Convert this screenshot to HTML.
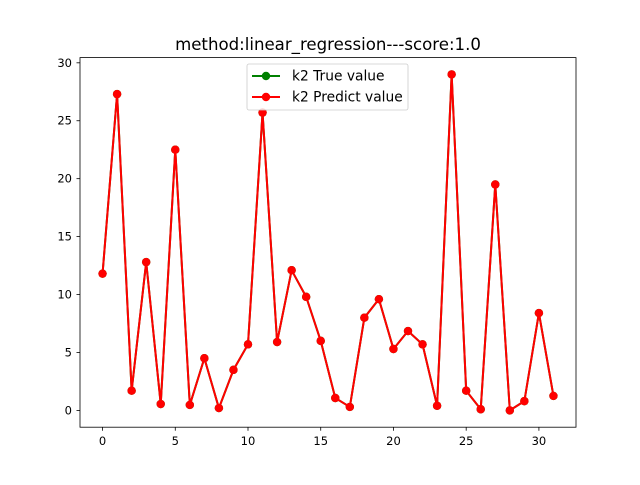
<!DOCTYPE html>
<html><head><meta charset="utf-8"><style>
body{margin:0;background:#fff}
svg text{font-family:"DejaVu Sans","Liberation Sans",sans-serif;}
</style></head><body>
<svg id="c" width="640" height="480" xmlns="http://www.w3.org/2000/svg">
<rect width="640" height="480" fill="#fff"/>
<text x="328" y="50" font-size="16.6" text-anchor="middle">method:linear_regression---score:1.0</text>
<g id="axes"></g>
<g id="series"></g>
<rect x="80" y="57.6" width="496" height="369.6" fill="none" stroke="#000" stroke-width="0.8"/>
<g>
<rect x="247" y="64" width="161" height="46" rx="2" fill="#fff" fill-opacity="0.8" stroke="#ccc" stroke-width="0.8"/>
<g>
<line x1="252" y1="76" x2="280" y2="76" stroke="green" stroke-width="2"/><circle cx="266" cy="76" r="4.2" fill="green"/>
<text x="292" y="80.5" font-size="13.8">k2 True value</text></g>
<g>
<line x1="252" y1="97" x2="280" y2="97" stroke="red" stroke-width="2"/><circle cx="266" cy="97" r="4.2" fill="red"/>
<text x="292" y="101.5" font-size="13.8">k2 Predict value</text></g>
</g>
</svg>
<script>
const trueValues=[11.8,27.3,1.7,12.8,0.55,22.5,0.47,4.5,0.2,3.5,5.7,25.7,5.9,12.1,9.8,6.0,1.07,0.3,8.0,9.6,5.3,6.85,5.7,0.4,29.0,1.7,0.1,19.5,0.0,0.8,8.4,1.25];
const predictValues=[11.8,27.3,1.7,12.8,0.55,22.5,0.47,4.5,0.2,3.5,5.7,25.7,5.9,12.1,9.8,6.0,1.07,0.3,8.0,9.6,5.3,6.85,5.7,0.4,29.0,1.7,0.1,19.5,0.0,0.8,8.4,1.25];
const xTicks=[0,5,10,15,20,25,30];
const yTicks=[0,5,10,15,20,25,30];
const NS="http://www.w3.org/2000/svg";
const n=predictValues.length;
const all=trueValues.concat(predictValues);
const ymin=Math.min(...all),ymax=Math.max(...all);
const xm=(n-1)*0.05,ym=(ymax-ymin)*0.05;
const x0=-xm,x1=n-1+xm,y0=ymin-ym,y1=ymax+ym;
const X=v=>80+(v-x0)/(x1-x0)*496;
const Y=v=>427.2-(v-y0)/(y1-y0)*369.6;
function mk(t,a,p){const e=document.createElementNS(NS,t);for(const k in a)e.setAttribute(k,a[k]);p.appendChild(e);return e;}
const ax=document.getElementById('axes');
xTicks.forEach(t=>{const g=mk('g',{},ax);


mk('line',{x1:X(t),x2:X(t),y1:427.2,y2:430.7,stroke:'#000','stroke-width':0.8},g);
const tx=mk('text',{x:X(t),y:445,'font-size':11.5,'text-anchor':'middle'},g);tx.textContent=t;});
yTicks.forEach(t=>{const g=mk('g',{},ax);


mk('line',{x1:76.5,x2:80,y1:Y(t),y2:Y(t),stroke:'#000','stroke-width':0.8},g);
const tx=mk('text',{x:72,y:Y(t)+4,'font-size':11.5,'text-anchor':'end'},g);tx.textContent=t;});
const sg=document.getElementById('series');
[[trueValues,'green','true-series'],[predictValues,'red','predict-series']].forEach(([d,c,nm])=>{
const g=mk('g',{},sg);


mk('polyline',{points:d.map((v,i)=>X(i)+','+Y(v)).join(' '),fill:'none',stroke:c,'stroke-width':2},g);
d.forEach((v,i)=>{const p=mk('circle',{cx:X(i),cy:Y(v),r:4.2,fill:c},g);

});
});
</script>
</body></html>
